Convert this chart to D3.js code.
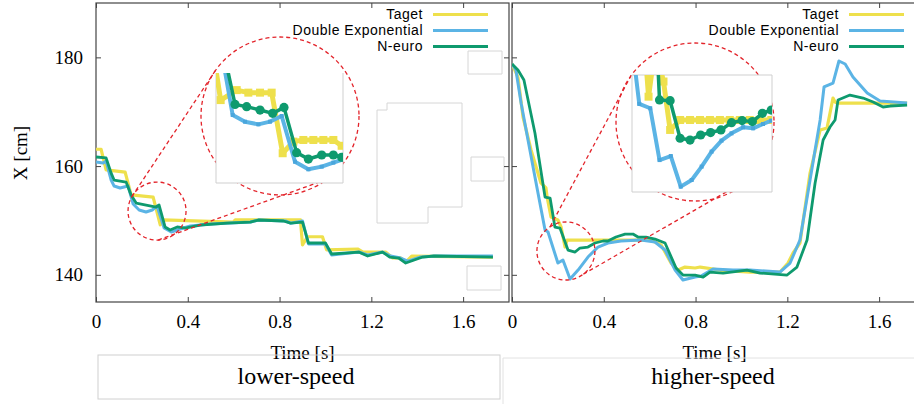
<!DOCTYPE html>
<html>
<head>
<script src="https://cdn.jsdelivr.net/npm/d3@7"></script>
<style>
    body { margin: 0; background: #fff; }
    .tick line { stroke: #444; }
    .legend text { font-family: "Liberation Sans", sans-serif; font-size: 14px; letter-spacing: 0.5px; }
</style>
</head>
<body>
<svg id="svg" width="914" height="404"></svg>
<script>
// ---- data: [time (s), X (cm)] ----
const timeTicks = [0, 0.4, 0.8, 1.2, 1.6];
const xTicks = [140, 160, 180];
const seriesNames = ["Taget", "Double Exponential", "N-euro"];
const seriesColors = ["#eee04c", "#5bb4e5", "#0e9a6e"];
const panelCaptions = ["lower-speed", "higher-speed"];

const lowTaget = [[0,163.1],[0.022,163.1],[0.044,159.3],[0.127,158.9],[0.153,154.7],[0.249,154.3],[0.28,149.2],[0.293,150.1],[0.598,149.7],[0.607,150.1],[0.891,150.1],[0.9,145.5],[0.922,147.0],[0.987,147.0],[1.005,144.6],[1.14,144.75],[1.162,144.2],[1.262,144.2],[1.293,143.1],[1.328,143.1],[1.35,142.35],[1.376,143.45],[1.73,143.27]];
const lowDoubleExp = [[0,160.75],[0.031,160.57],[0.044,160.93],[0.066,157.44],[0.079,156.33],[0.105,155.97],[0.14,156.33],[0.162,153.02],[0.188,151.92],[0.218,151.55],[0.245,151.92],[0.266,152.65],[0.297,148.6],[0.328,147.87],[0.367,148.42],[0.411,149.0],[0.498,149.35],[0.673,149.71],[0.708,150.08],[0.826,149.9],[0.848,149.5],[0.9,149.9],[0.926,145.67],[1.0,145.67],[1.027,143.64],[1.145,144.19],[1.184,143.64],[1.249,144.19],[1.284,143.45],[1.328,143.09],[1.359,142.53],[1.415,143.27],[1.481,143.46],[1.73,143.46]];
const lowNeuro = [[0,161.67],[0.044,161.5],[0.066,158.7],[0.079,157.44],[0.131,157.07],[0.153,154.68],[0.175,153.2],[0.262,152.47],[0.275,152.84],[0.301,148.8],[0.323,148.24],[0.354,148.8],[0.389,148.6],[0.454,149.16],[0.572,149.5],[0.673,149.71],[0.708,150.08],[0.817,149.9],[0.848,149.5],[0.9,149.71],[0.926,145.85],[1.0,145.85],[1.027,143.83],[1.145,144.19],[1.184,143.46],[1.249,144.19],[1.28,143.27],[1.319,143.09],[1.35,142.17],[1.424,143.27],[1.472,143.46],[1.73,143.27]];

const highTaget = [[0,178.78],[0.026,176.38],[0.048,169.03],[0.083,162.96],[0.126,156.9],[0.148,155.97],[0.153,154.31],[0.17,150.63],[0.2,150.08],[0.214,148.79],[0.231,145.11],[0.24,146.4],[0.593,146.4],[0.623,146.03],[0.65,145.48],[0.693,142.17],[0.724,140.88],[0.754,141.43],[0.798,141.25],[0.82,141.43],[0.907,140.88],[1.037,140.51],[1.168,140.51],[1.203,142.17],[1.225,144.01],[1.255,145.85],[1.299,158.73],[1.343,166.64],[1.373,167.0],[1.399,172.52],[1.408,171.79],[1.417,171.6],[1.722,171.6]];
const highDoubleExp = [[0,178.78],[0.017,177.67],[0.04,171.5],[0.1,157.99],[0.144,148.24],[0.157,147.87],[0.2,142.17],[0.222,142.72],[0.253,139.23],[0.288,140.88],[0.331,143.27],[0.375,145.11],[0.418,145.85],[0.475,146.22],[0.562,146.4],[0.623,146.03],[0.667,144.56],[0.711,140.88],[0.745,139.04],[0.798,139.59],[0.824,139.78],[0.876,141.06],[0.963,140.88],[1.037,140.88],[1.168,140.51],[1.212,142.17],[1.255,146.4],[1.299,157.44],[1.343,168.48],[1.36,174.55],[1.399,175.28],[1.425,179.33],[1.452,178.78],[1.486,176.38],[1.548,173.44],[1.604,171.97],[1.722,171.6]];
const highNeuro = [[0,178.78],[0.026,177.67],[0.052,175.83],[0.1,166.08],[0.144,154.31],[0.166,154.13],[0.187,148.79],[0.209,148.61],[0.244,144.56],[0.275,144.19],[0.296,144.93],[0.331,145.11],[0.362,145.85],[0.397,146.22],[0.418,146.22],[0.453,146.95],[0.493,147.5],[0.527,147.5],[0.549,146.95],[0.584,146.95],[0.623,146.58],[0.667,145.85],[0.715,141.25],[0.745,139.96],[0.798,139.96],[0.833,139.59],[0.863,140.51],[0.92,140.33],[1.024,140.88],[1.081,140.33],[1.199,139.96],[1.242,141.43],[1.286,146.4],[1.321,156.9],[1.356,164.8],[1.386,167.19],[1.408,168.48],[1.421,172.15],[1.473,173.07],[1.53,172.52],[1.574,171.79],[1.617,170.87],[1.648,171.05],[1.722,171.23]];

// zoomed-in samples shown in the insets
const insetLowTaget = [[0.1587,155.9],[0.1705,152.77],[0.1963,153.44],[0.215,153.27],[0.2338,153.27],[0.2525,153.27],[0.2702,149.2],[0.2874,149.98],[0.3034,150.09],[0.3195,150.09],[0.3356,150.09],[0.3517,150.09],[0.365,149.7]];
const insetLowDoubleExp = [[0.1705,156.35],[0.1898,151.77],[0.2096,151.32],[0.2311,151.14],[0.2498,151.32],[0.2686,151.7],[0.29,148.63],[0.3115,148.12],[0.333,148.3],[0.3517,148.57],[0.365,148.75]];
const insetLowNeuro = [[0.1737,156.35],[0.1936,152.48],[0.2123,152.33],[0.2338,152.1],[0.2541,151.88],[0.2723,152.28],[0.2927,149.24],[0.3115,148.81],[0.333,149.08],[0.3517,149.08],[0.365,148.93]];
const insetHighTaget = [[0.1527,150.6],[0.1607,146.1],[0.1714,149.47],[0.1848,147.12],[0.1955,143.86],[0.2116,144.53],[0.2276,144.53],[0.2437,144.53],[0.2597,144.53],[0.2758,144.53],[0.2918,144.53],[0.3079,144.53],[0.3239,144.53],[0.34,144.53],[0.3587,144.53]];
const insetHighDoubleExp = [[0.134,149.7],[0.1457,145.61],[0.1634,145.32],[0.1784,141.83],[0.1966,142.1],[0.2126,140.04],[0.2303,140.49],[0.2463,141.39],[0.2624,142.4],[0.2784,143.14],[0.2945,143.63],[0.3132,144.04],[0.3293,143.97],[0.3453,144.26],[0.3587,144.49]];
const insetHighNeuro = [[0.1741,149.7],[0.1784,145.88],[0.1955,145.83],[0.2116,143.3],[0.2276,143.18],[0.2447,143.52],[0.2608,143.68],[0.2774,143.86],[0.2945,144.35],[0.3116,144.49],[0.3282,144.42],[0.3443,144.98],[0.3587,145.2]];

// zoom spots [time, X] and inset data windows
const zoomSpots = [[0.266, 151.73], [0.235, 144.38]];
const insetTimeDomains = [[0.163, 0.3672], [0.134, 0.3598]];
const insetXDomains = [[147.2, 154.59], [139.68, 147.56]];

// ---- layout ----
const svg = d3.select("svg#svg");
const serif = "'Liberation Serif', 'Times New Roman', serif";
const panels = [
    { left: 96, top: 3, width: 413, height: 299, showY: true,
      series: [lowTaget, lowDoubleExp, lowNeuro],
      inset: { x: 216, y: 73, w: 127, h: 110, fullBox: false, series: [insetLowTaget, insetLowDoubleExp, insetLowNeuro] },
      bigCircle: { cx: 280, cy: 116, r: 79 }, smallR: 29,
      links: [[210, 215], [88, 53]], captionX: 296 },
    { left: 512, top: 3, width: 413, height: 299, showY: false,
      series: [highTaget, highDoubleExp, highNeuro],
      inset: { x: 632, y: 75, w: 140, h: 117, fullBox: true, series: [insetHighTaget, insetHighDoubleExp, insetHighNeuro] },
      bigCircle: { cx: 695, cy: 122, r: 79 }, smallR: 29,
      links: [[237, 216], [53, 45]], captionX: 713 }
];
const lineWidths = [3.2, 3, 2.8];
const insetWidths = [5, 4, 3.5];

// artefact boxes left in the lower-speed panel
svg.append("g").attr("fill", "none").attr("stroke", "#d6d6d6").attr("stroke-width", 1)
   .selectAll("path")
   .data(["M468,51H502V74H468Z",
          "M377,110H387V103H462V207H428V223H377Z",
          "M471,157H504V181H471Z",
          "M467,266H501V290H467Z"])
   .join("path").attr("d", d => d);

const serifTicks = g => g.selectAll(".tick text")
    .style("font-family", serif).style("font-size", "19px").attr("fill", "#000");

panels.forEach((p, pi) => {
    const x = d3.scaleLinear().domain([0, 1.8]).range([p.left, p.left + p.width]);
    const y = d3.scaleLinear().domain([135, 190]).range([p.top + p.height, p.top]);
    const bottom = p.top + p.height;

    const clipId = "clip" + pi;
    svg.append("clipPath").attr("id", clipId)
       .append("rect").attr("x", p.left).attr("y", p.top).attr("width", p.width).attr("height", p.height);

    // axes (ticks pointing inward)
    svg.append("g").attr("transform", `translate(0,${bottom})`)
       .call(d3.axisBottom(x).tickValues(timeTicks).tickSize(-5).tickSizeOuter(0).tickPadding(13).tickFormat(d3.format("")))
       .call(g => g.select(".domain").remove())
       .call(serifTicks);
    svg.append("g").attr("transform", `translate(0,${p.top})`)
       .call(d3.axisTop(x).tickValues(timeTicks).tickSize(-5).tickSizeOuter(0).tickFormat(""))
       .call(g => g.select(".domain").remove());
    svg.append("g").attr("transform", `translate(${p.left},0)`)
       .call(d3.axisLeft(y).tickValues(xTicks).tickSize(-5).tickSizeOuter(0).tickPadding(13)
             .tickFormat(p.showY ? d3.format("") : ""))
       .call(g => g.select(".domain").remove())
       .call(serifTicks);
    svg.append("g").attr("transform", `translate(${p.left + p.width},0)`)
       .call(d3.axisRight(y).tickValues(xTicks).tickSize(-5).tickSizeOuter(0).tickFormat(""))
       .call(g => g.select(".domain").remove());

    svg.append("rect").attr("x", p.left).attr("y", p.top).attr("width", p.width).attr("height", p.height)
       .attr("fill", "none").attr("stroke", "#444").attr("stroke-width", 1.2);

    // main lines
    const lineGen = d3.line().x(d => x(d[0])).y(d => y(d[1]));
    svg.append("g").attr("clip-path", `url(#${clipId})`)
       .selectAll("path").data(p.series).join("path")
       .attr("fill", "none")
       .attr("stroke", (d, i) => seriesColors[i])
       .attr("stroke-width", (d, i) => lineWidths[i])
       .attr("stroke-linejoin", "round")
       .attr("d", lineGen);

    // zoom circles and connecting lines
    const sx = x(zoomSpots[pi][0]), sy = y(zoomSpots[pi][1]);
    const bc = p.bigCircle;
    const red = svg.append("g").attr("fill", "none").attr("stroke", "#e3242b")
                   .attr("stroke-width", 1.3).attr("stroke-dasharray", "4,3");
    red.append("circle").attr("cx", sx).attr("cy", sy).attr("r", p.smallR);
    red.append("circle").attr("cx", bc.cx).attr("cy", bc.cy).attr("r", bc.r);
    p.links.forEach(([a1, a2]) => {
        const r1 = a1 * Math.PI / 180, r2 = a2 * Math.PI / 180;
        red.append("line")
           .attr("x1", sx + p.smallR * Math.cos(r1)).attr("y1", sy + p.smallR * Math.sin(r1))
           .attr("x2", bc.cx + bc.r * Math.cos(r2)).attr("y2", bc.cy + bc.r * Math.sin(r2));
    });

    // inset
    const ins = p.inset;
    const ix = d3.scaleLinear().domain(insetTimeDomains[pi]).range([ins.x, ins.x + ins.w]);
    const iy = d3.scaleLinear().domain(insetXDomains[pi]).range([ins.y + ins.h, ins.y]);
    const iclip = "iclip" + pi;
    svg.append("clipPath").attr("id", iclip)
       .append("rect").attr("x", ins.x).attr("y", ins.y).attr("width", ins.w).attr("height", ins.h);
    svg.append("rect").attr("x", ins.x).attr("y", ins.y).attr("width", ins.w).attr("height", ins.h)
       .attr("fill", "#fff").attr("stroke", "none");
    svg.append("path")
       .attr("d", ins.fullBox
           ? `M${ins.x},${ins.y}H${ins.x + ins.w}V${ins.y + ins.h}H${ins.x}Z`
           : `M${ins.x},${ins.y}V${ins.y + ins.h}H${ins.x + ins.w}V${ins.y}`)
       .attr("fill", "none").attr("stroke", "#cfcfcf").attr("stroke-width", 1);

    const iLine = d3.line().x(d => ix(d[0])).y(d => iy(d[1]));
    const ig = svg.append("g").attr("clip-path", `url(#${iclip})`);
    ins.series.forEach((s, i) => {
        ig.append("path").attr("fill", "none")
          .attr("stroke", seriesColors[i]).attr("stroke-width", insetWidths[i])
          .attr("stroke-linejoin", "round").attr("d", iLine(s));
        if (i === 2) {
            ig.selectAll(null).data(s).join("circle")
              .attr("cx", d => ix(d[0])).attr("cy", d => iy(d[1])).attr("r", 4.6)
              .attr("fill", seriesColors[i]);
        } else {
            const sz = i === 0 ? 8 : 4;
            ig.selectAll(null).data(s).join("rect")
              .attr("x", d => ix(d[0]) - sz / 2).attr("y", d => iy(d[1]) - sz / 2)
              .attr("width", sz).attr("height", sz)
              .attr("fill", i === 0 ? seriesColors[i] : "#4aa6dc");
        }
    });

    // legend
    const lg = svg.append("g").attr("class", "legend");
    const right = p.left + p.width;
    seriesNames.forEach((name, i) => {
        const ly = 14.5 + 16 * i;
        lg.append("text").attr("x", right - 86).attr("y", ly).attr("dy", "0.35em")
          .attr("text-anchor", "end").text(name);
        lg.append("line").attr("x1", right - 76).attr("x2", right - 21)
          .attr("y1", ly).attr("y2", ly)
          .attr("stroke", seriesColors[i]).attr("stroke-width", 3);
    });

    // axis title
    svg.append("text").attr("x", p.left + p.width / 2 - (pi ? 4 : 0)).attr("y", 359)
       .attr("text-anchor", "middle")
       .style("font-family", serif).style("font-size", "19px")
       .text("Time [s]");

    svg.append("text").attr("x", p.captionX).attr("y", 384)
       .attr("text-anchor", "middle")
       .style("font-family", serif).style("font-size", "24px")
       .text(panelCaptions[pi]);
});

// caption boxes
svg.append("rect").attr("x", 98).attr("y", 355).attr("width", 402).attr("height", 44)
   .attr("fill", "none").attr("stroke", "#d0d0d0");
svg.append("path").attr("d", "M914,358H503V404")
   .attr("fill", "none").attr("stroke", "#e2e2e2");

svg.append("text")
   .attr("transform", "translate(20,153) rotate(-90)")
   .attr("text-anchor", "middle").attr("dy", "0.35em")
   .style("font-family", serif).style("font-size", "19px")
   .text("X [cm]");
</script>
</body>
</html>
